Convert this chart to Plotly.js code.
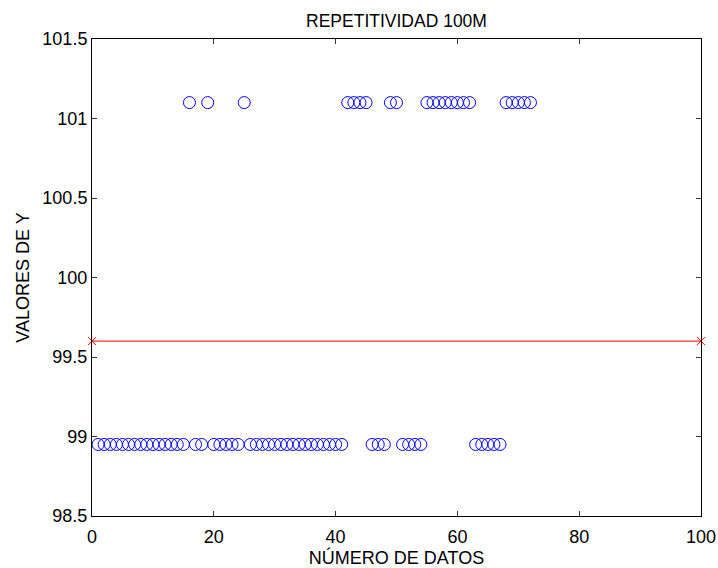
<!DOCTYPE html>
<html>
<head>
<meta charset="utf-8">
<script src="https://cdn.plot.ly/plotly-3.0.1.min.js"></script>
<style>html,body{margin:0;padding:0;background:#fff;}#chart{width:718px;height:568px;}</style>
</head>
<body>
<div id="chart"></div>
<script>
// Data
const lowIdx = [1,2,3,4,5,6,7,8,9,10,11,12,13,14,15,17,18,20,21,22,23,24,26,27,28,29,30,31,32,33,34,35,36,37,38,39,40,41,46,47,48,51,52,53,54,63,64,65,66,67];
const highIdx = [16,19,25,42,43,44,45,49,50,55,56,57,58,59,60,61,62,68,69,70,71,72];
const lowValue = 98.95;
const highValue = 101.1;
const sampleX = [];
const sampleY = [];
for (let i = 1; i <= 72; i++) {
  sampleX.push(i);
  sampleY.push(highIdx.includes(i) ? highValue : lowValue);
}
const refX = [0, 100];
const refY = [99.6, 99.6];
const xTicks = [0, 20, 40, 60, 80, 100];
const yTicks = [98.5, 99, 99.5, 100, 100.5, 101, 101.5];

const fontFam = 'Arial, "Liberation Sans", Helvetica, sans-serif';
const traces = [
  {x: sampleX, y: sampleY, type: 'scatter', mode: 'markers', cliponaxis: false,
   marker: {symbol: 'circle-open', size: 12, color: '#0000ff', line: {width: 1, color: '#0000ff'}},
   hoverinfo: 'x+y', showlegend: false},
  {x: refX, y: refY, type: 'scatter', mode: 'lines+markers', cliponaxis: false,
   line: {color: '#ff0000', width: 1},
   marker: {symbol: 'x-thin-open', size: 8, color: '#ff0000', line: {width: 1, color: '#ff0000'}},
   showlegend: false}
];
const axisCommon = {
  showgrid: false, zeroline: false, showline: true, linecolor: '#000', linewidth: 1,
  mirror: 'ticks', ticks: 'inside', ticklen: 5, tickcolor: '#333', tickwidth: 1,
  tickfont: {family: fontFam, size: 18, color: '#000'}
};
const layout = {
  width: 718, height: 568,
  margin: {l: 92, r: 17, t: 39, b: 52},
  paper_bgcolor: '#fff', plot_bgcolor: '#fff',
  title: {text: 'REPETITIVIDAD 100M', font: {family: fontFam, size: 17.5, color: '#000'},
          x: 0.5, xref: 'paper', xanchor: 'center', y: 1, yref: 'paper', yanchor: 'bottom', pad: {b: 12}},
  xaxis: Object.assign({}, axisCommon, {
    range: [0, 100], tickvals: xTicks, ticktext: xTicks.map(String), ticklabelstandoff: 4,
    title: {text: 'NÚMERO DE DATOS', font: {family: fontFam, size: 18, color: '#000'}, standoff: 0}
  }),
  yaxis: Object.assign({}, axisCommon, {
    range: [98.5, 101.5], tickvals: yTicks, ticktext: yTicks.map(String),
    title: {text: 'VALORES DE Y', font: {family: fontFam, size: 18, color: '#000'}, standoff: 8}
  }),
  showlegend: false
};
Plotly.newPlot('chart', traces, layout, {displayModeBar: false, staticPlot: true});
</script>
</body>
</html>
